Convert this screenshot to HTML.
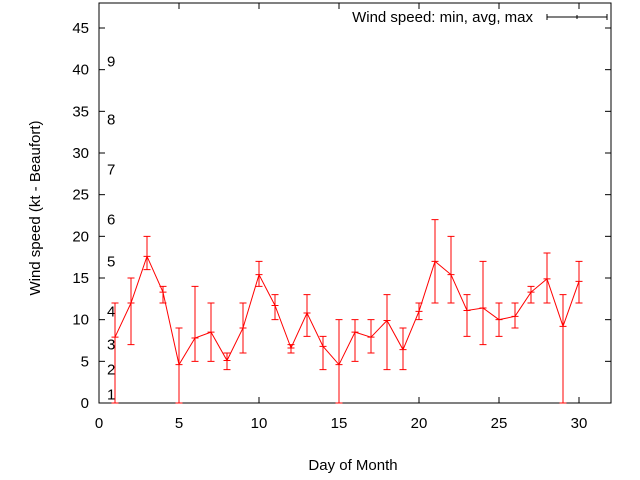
<!DOCTYPE html>
<html><head><meta charset="utf-8"><style>body{margin:0;background:#fff}svg{display:block;font-family:"Liberation Sans",sans-serif}</style></head>
<body>
<svg id="c" width="640" height="480"></svg>
<script>
const days=[1,2,3,4,5,6,7,8,9,10,11,12,13,14,15,16,17,18,19,20,21,22,23,24,25,26,27,28,29,30];
const avgs=[7.9,12,17.6,13.3,4.6,7.8,8.5,5.1,9,15.4,11.7,6.6,10.8,6.8,4.6,8.5,7.9,9.9,6.4,11,17,15.4,11.1,11.4,10,10.4,13.3,14.9,9.2,14.6];
const mins=[0,7,16,12,0,5,5,4,6,14,10,6,8,4,0,5,6,4,4,10,12,12,8,7,8,9,12,12,0,12];
const maxs=[12,15,20,14,9,14,12,6,12,17,13,7,13,8,10,10,10,13,9,12,22,20,13,17,12,12,14,18,13,17];
const xTicks=[0,5,10,15,20,25,30];
const yTicks=[0,5,10,15,20,25,30,35,40,45];
const bft=[[1,1],[2,4],[3,7],[4,11],[5,17],[6,22],[7,28],[8,34],[9,41]];
const L=99,R=611,T=3,B=403,xMax=32,yMax=48;
const X=v=>L+v*(R-L)/xMax, Y=v=>B-v*(B-T)/yMax;
const s=document.getElementById('c'),NS='http://www.w3.org/2000/svg';
function mk(t,a,p){const e=document.createElementNS(NS,t);for(const k in a)e.setAttribute(k,a[k]);(p||s).appendChild(e);return e;}
let e=mk('rect',{x:L,y:T,width:R-L,height:B-T,fill:'none',stroke:'#000'});


xTicks.forEach(v=>{mk('line',{x1:X(v),x2:X(v),y1:B,y2:B-6,stroke:'#000'});mk('line',{x1:X(v),x2:X(v),y1:T,y2:T+6,stroke:'#000'});
 e=mk('text',{x:X(v),y:B+25,'text-anchor':'middle','font-size':15});e.textContent=v;
 
 });
yTicks.forEach(v=>{mk('line',{x1:L,x2:L+6,y1:Y(v),y2:Y(v),stroke:'#000'});mk('line',{x1:R,x2:R-6,y1:Y(v),y2:Y(v),stroke:'#000'});
 e=mk('text',{x:L-10,y:Y(v)+5,'text-anchor':'end','font-size':15});e.textContent=v;
 
 });
bft.forEach(b=>{e=mk('text',{x:107,y:Y(b[1])+5,'font-size':15});e.textContent=b[0];
 
 });
e=mk('text',{x:353,y:470,'text-anchor':'middle','font-size':15});e.textContent='Day of Month';


e=mk('text',{x:0,y:0,'text-anchor':'middle','font-size':15,transform:'translate(40,208) rotate(-90)'});e.textContent='Wind speed (kt - Beaufort)';


const g=mk('g',{stroke:'#f00','stroke-width':1,fill:'none'});


days.forEach((d,i)=>{const x=X(d);
 e=mk('path',{d:`M${x},${Y(mins[i])}V${Y(maxs[i])}M${x-3.5},${Y(mins[i])}h7M${x-3.5},${Y(maxs[i])}h7M${x-3.5},${Y(avgs[i])}h7`},g);
 
 });
e=mk('polyline',{points:days.map((d,i)=>X(d)+','+Y(avgs[i])).join(' ')},g);


e=mk('text',{x:533,y:22,'text-anchor':'end','font-size':15});e.textContent='Wind speed: min, avg, max';


e=mk('path',{d:'M547,17H607M547,14V20M607,14V20M577,15V19',stroke:'#000','stroke-width':1});


</script>
</body></html>
